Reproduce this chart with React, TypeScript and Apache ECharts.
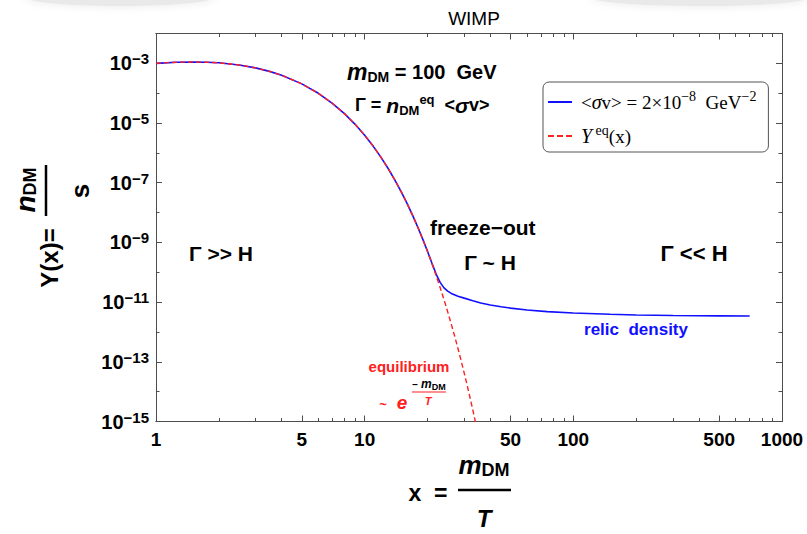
import { useEffect, useRef } from 'react';
import * as echarts from 'echarts';

// Equilibrium abundance Y_eq(x) (red dashed)
const eqX = [1, 1.25, 1.5, 1.75, 2, 2.5, 3, 3.5, 4, 5, 6, 7, 8, 9, 10, 11, 12, 13, 14, 15, 16, 17, 18, 19, 20, 21, 22, 23, 24, 25, 26, 27, 28, 29, 30, 31, 32, 33, 34];
const eqY = [1.0e-3, 1.089e-3, 1.115e-3, 1.094e-3, 1.041e-3, 8.83e-4, 7.04e-4, 5.38e-4, 3.99e-4, 2.05e-4, 9.91e-5, 4.59e-5, 2.06e-5, 9.06e-6, 3.91e-6, 1.657e-6, 6.95e-7, 2.882e-7, 1.185e-7, 4.834e-8, 1.96e-8, 7.893e-9, 3.16e-9, 1.262e-9, 5.01e-10, 1.985e-10, 7.83e-11, 3.08e-11, 1.207e-11, 4.72e-12, 1.842e-12, 7.17e-13, 2.79e-13, 1.081e-13, 4.18e-14, 1.616e-14, 6.24e-15, 2.40e-15, 9.24e-16];

// Solution of the Boltzmann equation for <σv> = 2e-8 GeV^-2 (blue)
const relicX = [1, 1.25, 1.5, 1.75, 2, 2.5, 3, 3.5, 4, 5, 6, 7, 8, 9, 10, 11, 12, 13, 14, 15, 16, 17, 18, 19, 20, 21, 22, 23, 24, 25, 26, 28, 30, 33, 36, 40, 45, 50, 60, 75, 100, 150, 200, 300, 400, 500, 700];
const relicY = [1.0e-3, 1.089e-3, 1.115e-3, 1.094e-3, 1.041e-3, 8.83e-4, 7.04e-4, 5.38e-4, 3.99e-4, 2.05e-4, 9.91e-5, 4.59e-5, 2.06e-5, 9.06e-6, 3.91e-6, 1.657e-6, 6.95e-7, 2.882e-7, 1.185e-7, 4.834e-8, 1.96e-8, 7.893e-9, 3.16e-9, 1.262e-9, 5.05e-10, 2.03e-10, 8.7e-11, 4.6e-11, 3.0e-11, 2.35e-11, 1.95e-11, 1.58e-11, 1.36e-11, 1.12e-11, 9.4e-12, 8.0e-12, 7.0e-12, 6.3e-12, 5.45e-12, 4.8e-12, 4.3e-12, 3.9e-12, 3.72e-12, 3.57e-12, 3.5e-12, 3.46e-12, 3.41e-12];

// Axis ticks
const xMajorTicks = [1, 5, 10, 50, 100, 500, 1000];
const xMinorTicks = [2, 3, 4, 6, 7, 8, 9, 20, 30, 40, 60, 70, 80, 90, 200, 300, 400, 600, 700, 800, 900];
const yMajorTicks = [1e-15, 1e-13, 1e-11, 1e-9, 1e-7, 1e-5, 1e-3];
const yMinorTicks = [1e-14, 1e-12, 1e-10, 1e-8, 1e-6, 1e-4];

const seriesNames = ['relic', 'equilibrium'];

const SANS = '"Liberation Sans", Arial, Helvetica, sans-serif';
const SERIF = '"Liberation Serif", "DejaVu Serif", serif';
const FRAME = '#4d4d4d';
const BLUE = '#1010ff';
const RED = '#ff2020';
const PURPLE = '#8a1c8a';

function xAxisDef(position: 'bottom' | 'top', ticks: number[], len: number, withLabels: boolean) {
  return {
    type: 'log',
    logBase: 10,
    min: 1,
    max: 1000,
    position,
    axisLine: { show: true, lineStyle: { color: FRAME, width: 1 } },
    axisTick: { show: true, inside: true, length: len, customValues: ticks, lineStyle: { color: FRAME, width: 1 } },
    axisLabel: withLabels
      ? {
          show: true,
          customValues: ticks,
          margin: 8,
          fontFamily: SANS,
          fontSize: 19,
          fontWeight: 'bold',
          color: '#000',
          formatter: (v: number) => String(Math.round(v)),
        }
      : { show: false },
    splitLine: { show: false },
    minorTick: { show: false },
  };
}

function yAxisDef(position: 'left' | 'right', ticks: number[], len: number, withLabels: boolean) {
  return {
    type: 'log',
    logBase: 10,
    min: 1e-15,
    max: 1e-2,
    position,
    axisLine: { show: true, lineStyle: { color: FRAME, width: 1 } },
    axisTick: { show: true, inside: true, length: len, customValues: ticks, lineStyle: { color: FRAME, width: 1 } },
    axisLabel: withLabels
      ? {
          show: true,
          customValues: ticks,
          margin: 7,
          formatter: (v: number) => `{b|10}{s|−${Math.abs(Math.round(Math.log10(v)))}}`,
          rich: {
            b: { fontFamily: SANS, fontSize: 20, fontWeight: 'bold', color: '#000', lineHeight: 24 },
            s: { fontFamily: SANS, fontSize: 15, fontWeight: 'bold', color: '#000', lineHeight: 10, verticalAlign: 'top' },
          },
        }
      : { show: false },
    splitLine: { show: false },
    minorTick: { show: false },
  };
}

function label(x: number, y: number, text: string, style: Record<string, any>, extra: Record<string, any> = {}) {
  return {
    type: 'text',
    x,
    y,
    silent: true,
    z: 20,
    ...extra,
    style: { text, verticalAlign: 'middle', textAlign: 'left', ...style },
  };
}

const richBase = (color: string, size: number, italic: number, sub: number) => ({
  t: { fontFamily: SANS, fontSize: size, fontWeight: 'bold', color, lineHeight: 24 },
  i: { fontFamily: SANS, fontSize: italic, fontWeight: 'bold', fontStyle: 'italic', color, lineHeight: 24 },
  sub: { fontFamily: SANS, fontSize: sub, fontWeight: 'bold', color, lineHeight: 12, verticalAlign: 'bottom' },
  sup: { fontFamily: SANS, fontSize: sub, fontWeight: 'bold', color, lineHeight: 12, verticalAlign: 'top' },
});

const annotations = [
  // faint grey smudges along the top edge
  { type: 'ellipse', silent: true, z: 0, shape: { cx: 120, cy: -3, rx: 95, ry: 9 }, style: { fill: '#e9e9e9', shadowBlur: 10, shadowColor: '#e9e9e9' } },
  { type: 'ellipse', silent: true, z: 0, shape: { cx: 700, cy: -3, rx: 110, ry: 9 }, style: { fill: '#e9e9e9', shadowBlur: 10, shadowColor: '#e9e9e9' } },
  // title
  label(474, 18, 'WIMP', { fontFamily: SANS, fontSize: 19, fill: '#000', textAlign: 'center' }),
  // particle mass
  label(347, 72, '{i|m}{sub|DM}{t| = 100  GeV}', { rich: richBase(PURPLE, 20, 23, 14) }),
  // annihilation rate
  label(355, 105, '{t|Γ = }{i|n}{sub|DM}{sup|eq}{t|  <}{i|σ}{t|v>}', { rich: richBase('#000', 18, 21, 13) }),
  // regimes
  label(189, 253, 'Γ >> H', { fontFamily: SANS, fontSize: 21, fontWeight: 'bold', fill: '#000' }),
  label(430, 227, 'freeze−out', { fontFamily: SANS, fontSize: 21, fontWeight: 'bold', fill: '#000' }),
  label(490, 262, 'Γ ~ H', { fontFamily: SANS, fontSize: 21, fontWeight: 'bold', fill: '#000', textAlign: 'center' }),
  label(694, 253, 'Γ << H', { fontFamily: SANS, fontSize: 22, fontWeight: 'bold', fill: '#000', textAlign: 'center' }),
  label(636, 329, 'relic  density', { fontFamily: SANS, fontSize: 17, fontWeight: 'bold', fill: BLUE, textAlign: 'center' }),
  // equilibrium tail
  label(409, 366, 'equilibrium', { fontFamily: SANS, fontSize: 15, fontWeight: 'bold', fill: RED, textAlign: 'center' }),
  label(383, 404, '~', { fontFamily: SANS, fontSize: 13, fontWeight: 'bold', fill: RED, textAlign: 'center' }),
  label(402, 402, 'e', { fontFamily: SANS, fontSize: 19, fontWeight: 'bold', fontStyle: 'italic', fill: RED, textAlign: 'center' }),
  label(429, 384, '{t|− }{i|m}{sub|DM}', {
    textAlign: 'center',
    rich: {
      t: { fontFamily: SANS, fontSize: 10, fontWeight: 'bold', color: RED, lineHeight: 14 },
      i: { fontFamily: SANS, fontSize: 12, fontWeight: 'bold', fontStyle: 'italic', color: RED, lineHeight: 14 },
      sub: { fontFamily: SANS, fontSize: 9, fontWeight: 'bold', color: RED, lineHeight: 9, verticalAlign: 'bottom' },
    },
  }),
  { type: 'line', silent: true, z: 20, shape: { x1: 412, y1: 392, x2: 446, y2: 392 }, style: { stroke: RED, lineWidth: 1.2 } },
  label(428, 401, 'T', { fontFamily: SANS, fontSize: 11, fontWeight: 'bold', fontStyle: 'italic', fill: RED, textAlign: 'center' }),
  // x-axis title
  label(428, 493, 'x  =', { fontFamily: SANS, fontSize: 23, fontWeight: 'bold', fill: '#000', textAlign: 'center' }),
  label(484, 465, '{i|m}{sub|DM}', {
    textAlign: 'center',
    rich: {
      i: { fontFamily: SANS, fontSize: 26, fontWeight: 'bold', fontStyle: 'italic', color: '#000', lineHeight: 28 },
      sub: { fontFamily: SANS, fontSize: 18, fontWeight: 'bold', color: '#000', lineHeight: 16, verticalAlign: 'bottom' },
    },
  }),
  { type: 'line', silent: true, z: 20, shape: { x1: 458, y1: 490, x2: 511, y2: 490 }, style: { stroke: '#000', lineWidth: 2.5 } },
  label(484, 518, 'T', { fontFamily: SANS, fontSize: 24, fontWeight: 'bold', fontStyle: 'italic', fill: '#000', textAlign: 'center' }),
  // y-axis title (reads bottom to top)
  label(49, 258, 'Y(x)=', { fontFamily: SANS, fontSize: 24, fontWeight: 'bold', fill: '#000', textAlign: 'center' }, { rotation: Math.PI / 2 }),
  label(25, 190, '{i|n}{sub|DM}', {
    textAlign: 'center',
    rich: {
      i: { fontFamily: SANS, fontSize: 28, fontWeight: 'bold', fontStyle: 'italic', color: '#000', lineHeight: 28 },
      sub: { fontFamily: SANS, fontSize: 18, fontWeight: 'bold', color: '#000', lineHeight: 16, verticalAlign: 'bottom' },
    },
  }, { rotation: Math.PI / 2 }),
  { type: 'line', silent: true, z: 20, shape: { x1: 46, y1: 165, x2: 46, y2: 216 }, style: { stroke: '#000', lineWidth: 2.5 } },
  label(80, 191, 's', { fontFamily: SANS, fontSize: 26, fontWeight: 'bold', fill: '#000', textAlign: 'center' }, { rotation: Math.PI / 2 }),
];

const legendRich = {
  g: { width: 4, lineHeight: 26 },
  t: { fontFamily: SERIF, fontSize: 19, color: '#000', lineHeight: 26 },
  i: { fontFamily: SERIF, fontSize: 20, fontStyle: 'italic', color: '#000', lineHeight: 26 },
  sup: { fontFamily: SERIF, fontSize: 14, color: '#000', lineHeight: 10, verticalAlign: 'top' },
};

const option = {
  animation: false,
  backgroundColor: '#ffffff',
  grid: { left: 156, top: 33.5, width: 626, height: 388, containLabel: false },
  xAxis: [
    xAxisDef('bottom', xMajorTicks, 6, true),
    xAxisDef('bottom', xMinorTicks, 3.5, false),
    xAxisDef('top', xMajorTicks, 6, false),
    xAxisDef('top', xMinorTicks, 3.5, false),
  ],
  yAxis: [
    yAxisDef('left', yMajorTicks, 6, true),
    yAxisDef('left', yMinorTicks, 3.5, false),
    yAxisDef('right', yMajorTicks, 6, false),
    yAxisDef('right', yMinorTicks, 3.5, false),
  ],
  legend: {
    orient: 'vertical',
    left: 543,
    top: 82,
    padding: [7, 12, 6, 5],
    itemGap: 11,
    itemWidth: 24,
    itemHeight: 2,
    backgroundColor: '#ffffff',
    borderColor: '#555555',
    borderWidth: 1,
    borderRadius: 6,
    data: [
      { name: seriesNames[0], icon: 'rect' },
      { name: seriesNames[1], icon: 'path://M0,0h6v2h-6zM9,0h6v2h-6zM18,0h6v2h-6z' },
    ],
    formatter: (name: string) =>
      name === 'relic'
        ? '{g| }{t|<}{i|σ}{t|v> = 2×10}{sup|−8}{t|  GeV}{sup|−2}'
        : '{g| }{i|Y}{sup| eq}{t|(x)}',
    textStyle: { rich: legendRich },
  },
  graphic: annotations,
  series: [
    {
      name: seriesNames[0],
      type: 'line',
      xAxisIndex: 0,
      yAxisIndex: 0,
      data: relicX.map((x, i) => [x, relicY[i]]),
      symbol: 'none',
      smooth: false,
      clip: true,
      lineStyle: { color: BLUE, width: 1.6 },
      itemStyle: { color: BLUE },
      z: 3,
    },
    {
      name: seriesNames[1],
      type: 'line',
      xAxisIndex: 0,
      yAxisIndex: 0,
      data: eqX.map((x, i) => [x, eqY[i]]),
      symbol: 'none',
      smooth: false,
      clip: true,
      lineStyle: { color: RED, width: 1.4, type: [5, 3] },
      itemStyle: { color: RED },
      z: 4,
    },
  ],
};

export default function App() {
  const ref = useRef<HTMLDivElement>(null);
  useEffect(() => {
    if (!ref.current) return;
    const chart = echarts.init(ref.current, null, { renderer: 'svg' });
    chart.setOption(option as any);
    return () => chart.dispose();
  }, []);
  return (
    <div
      ref={ref}
      style={{ position: 'fixed', left: 0, top: 0, width: 807, height: 534, background: '#fff' }}
    />
  );
}
